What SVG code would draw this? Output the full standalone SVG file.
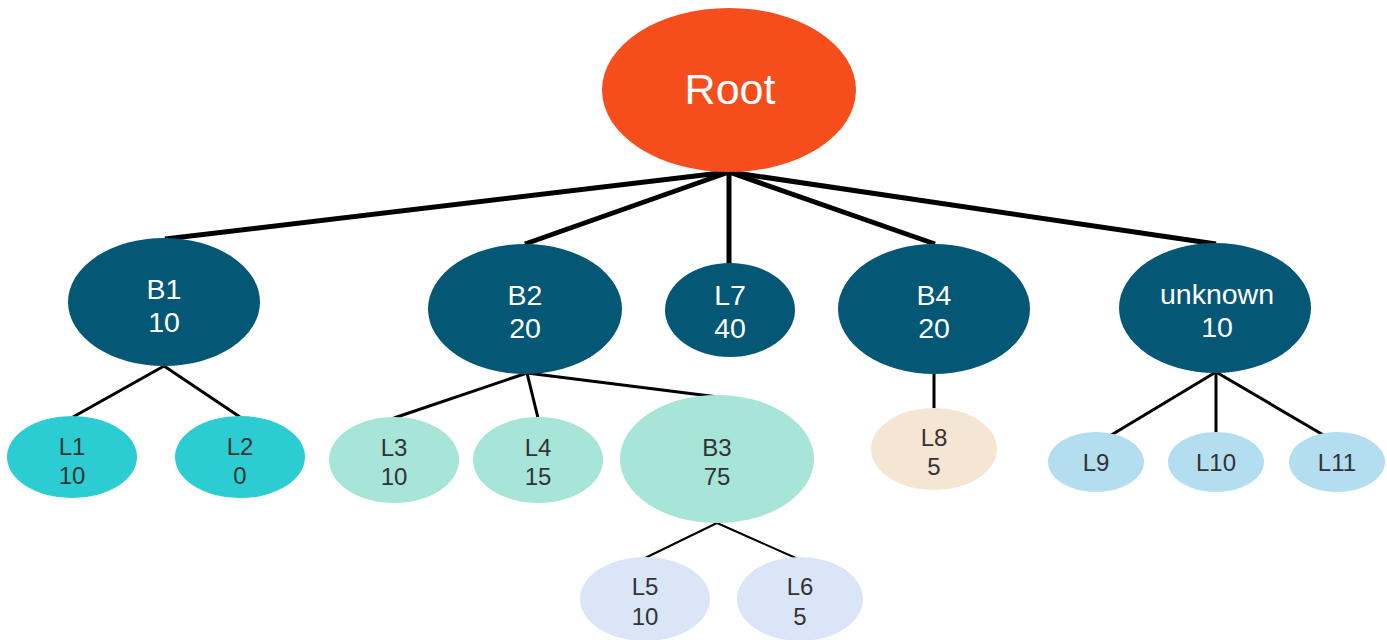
<svg xmlns="http://www.w3.org/2000/svg" width="1387" height="640" viewBox="0 0 1387 640">
<style>
text{font-family:"Liberation Sans",Arial,sans-serif;text-anchor:middle}
.w{fill:#ffffff;font-size:28.5px}
.d{fill:#333333;font-size:24px}
.dark{fill:#045876}
.cyan{fill:#2bcdd3}
.mint{fill:#a6e5d8}
.pale{fill:#dae6f8}
.sand{fill:#f5e6d4}
.sky{fill:#b2def0}
.e1{stroke:#000;stroke-width:5;fill:none}
.e2{stroke:#000;stroke-width:3;fill:none}
.e3{stroke:#000;stroke-width:2;fill:none}
</style>
<rect width="1387" height="640" fill="#ffffff"/>
<g id="connectors">
<line class="e1" x1="729" y1="172" x2="165" y2="239"/>
<line class="e1" x1="729" y1="172" x2="525" y2="244"/>
<line class="e1" x1="729" y1="172" x2="729" y2="264"/>
<line class="e1" x1="729" y1="172" x2="935" y2="244"/>
<line class="e1" x1="729" y1="172" x2="1216" y2="244"/>
<line class="e2" x1="164" y1="366" x2="73" y2="417"/>
<line class="e2" x1="164" y1="366" x2="240" y2="417"/>
<line class="e2" x1="527" y1="373" x2="394" y2="418"/>
<line class="e2" x1="527" y1="373" x2="538" y2="418"/>
<line class="e2" x1="527" y1="373" x2="718" y2="397"/>
<line class="e3" x1="717" y1="523" x2="643" y2="559"/>
<line class="e3" x1="717" y1="523" x2="798" y2="559"/>
<line class="e2" x1="934" y1="373" x2="934" y2="409"/>
<line class="e2" x1="1216" y1="372" x2="1098" y2="443"/>
<line class="e2" x1="1216" y1="372" x2="1216" y2="443"/>
<line class="e2" x1="1216" y1="372" x2="1337" y2="443"/>
</g>
<g id="root"><ellipse cx="729" cy="90" rx="127" ry="82" fill="#f54e1c"/><text x="730" y="104" fill="#fff" font-size="43">Root</text></g>
<g id="B1"><ellipse class="dark" cx="164" cy="302" rx="96" ry="64"/><text class="w" x="164" y="299">B1</text><text class="w" x="164" y="332">10</text></g>
<g id="B2"><ellipse class="dark" cx="525" cy="309" rx="97" ry="65"/><text class="w" x="525" y="305">B2</text><text class="w" x="525" y="338">20</text></g>
<g id="L7"><ellipse class="dark" cx="730" cy="310" rx="65" ry="47"/><text class="w" x="730" y="305">L7</text><text class="w" x="730" y="338">40</text></g>
<g id="B4"><ellipse class="dark" cx="934" cy="309" rx="96" ry="65"/><text class="w" x="934" y="305">B4</text><text class="w" x="934" y="338">20</text></g>
<g id="unknown"><ellipse class="dark" cx="1215" cy="308" rx="96" ry="65"/><text class="w" x="1217" y="304">unknown</text><text class="w" x="1217" y="337">10</text></g>
<g id="L1"><ellipse class="cyan" cx="72" cy="457" rx="65" ry="41"/><text class="d" x="72" y="455">L1</text><text class="d" x="72" y="484">10</text></g>
<g id="L2"><ellipse class="cyan" cx="240" cy="457" rx="65" ry="41"/><text class="d" x="240" y="455">L2</text><text class="d" x="240" y="484">0</text></g>
<g id="L3"><ellipse class="mint" cx="394" cy="460" rx="65" ry="43"/><text class="d" x="394" y="456">L3</text><text class="d" x="394" y="485">10</text></g>
<g id="L4"><ellipse class="mint" cx="538" cy="460" rx="65" ry="43"/><text class="d" x="538" y="456">L4</text><text class="d" x="538" y="485">15</text></g>
<g id="B3"><ellipse class="mint" cx="717" cy="459" rx="97" ry="64"/><text class="d" x="717" y="456">B3</text><text class="d" x="717" y="485">75</text></g>
<g id="L5"><ellipse class="pale" cx="645" cy="599" rx="65" ry="42"/><text class="d" x="645" y="595">L5</text><text class="d" x="645" y="625">10</text></g>
<g id="L6"><ellipse class="pale" cx="800" cy="599" rx="63" ry="42"/><text class="d" x="800" y="595">L6</text><text class="d" x="800" y="625">5</text></g>
<g id="L8"><ellipse class="sand" cx="934" cy="449" rx="63" ry="41"/><text class="d" x="934" y="446">L8</text><text class="d" x="934" y="475">5</text></g>
<g id="L9"><ellipse class="sky" cx="1096" cy="462" rx="48" ry="30"/><text class="d" x="1096" y="471">L9</text></g>
<g id="L10"><ellipse class="sky" cx="1216" cy="462" rx="48" ry="30"/><text class="d" x="1216" y="471">L10</text></g>
<g id="L11"><ellipse class="sky" cx="1337" cy="462" rx="48" ry="30"/><text class="d" x="1337" y="471">L11</text></g>
</svg>
